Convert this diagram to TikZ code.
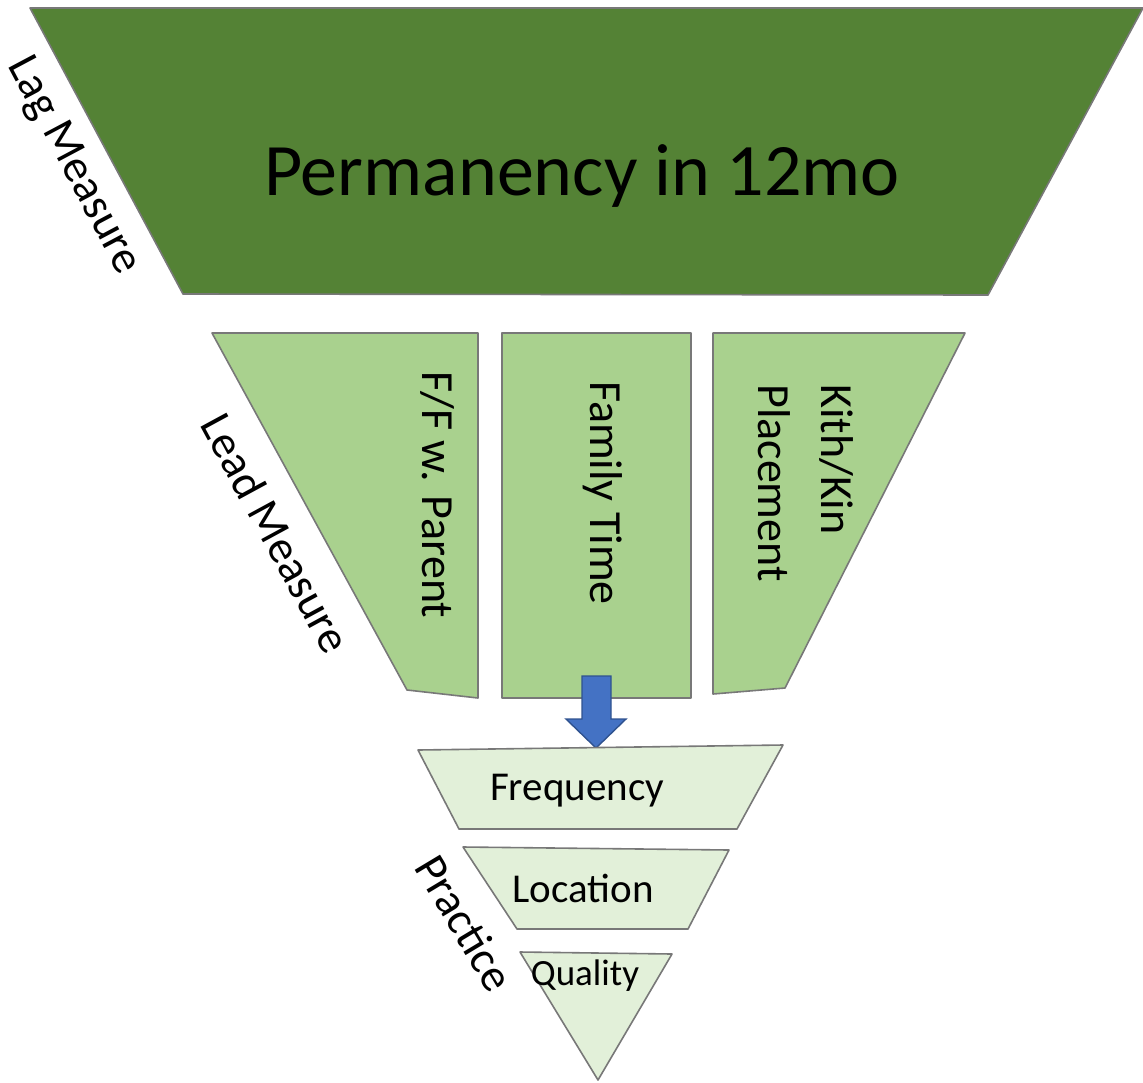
\documentclass[tikz,border=0pt]{standalone}
\usepackage{fontspec}
\setmainfont{Carlito}
\usepackage{tikz}
\usetikzlibrary{positioning}
\definecolor{lagGreen}{RGB}{84,130,53}
\definecolor{leadGreen}{RGB}{169,209,142}
\definecolor{practiceGreen}{RGB}{226,240,217}
\definecolor{edgeGray}{RGB}{120,120,120}
\definecolor{arrowBlue}{RGB}{68,114,196}
\definecolor{arrowEdge}{RGB}{47,82,143}
\newcommand{\funnelpiece}[2]{%
  \filldraw[fill=#1,draw=edgeGray,line width=1.6pt,line join=round] #2 -- cycle;
}
\tikzset{
  sidelabel/.style={font=\fontsize{46}{55}\selectfont,inner sep=0pt},
  steplabel/.style={font=\fontsize{41}{49}\selectfont,anchor=base,inner sep=0pt}
}

\begin{document}
\begin{tikzpicture}[x=1pt,y=-1pt]
    \useasboundingbox (0,0) rectangle (1143,1082);
    % lag measure
    \funnelpiece{lagGreen}{(30,8) -- (1143,8) -- (988,295) -- (183,294)}
    \node[font=\fontsize{74}{88}\selectfont,anchor=base,inner sep=0pt] (perm) at (582,195) {Permanency in 12mo};
    \node[sidelabel,rotate=-62] (lag) at (73,166) {Lag Measure};
    % lead measures
    \funnelpiece{leadGreen}{(212,333) -- (478,333) -- (478,698) -- (407,690)}
    \funnelpiece{leadGreen}{(502,333) -- (691,333) -- (691,698) -- (502,698)}
    \funnelpiece{leadGreen}{(713,333) -- (965,333) -- (785,688) -- (713,694)}
    \node[sidelabel,rotate=-90] (ffparent) at (437,495) {F/F w. Parent};
    \node[sidelabel,rotate=-90] (famtime) at (603,493) {Family Time};
    \node[sidelabel,rotate=-90,align=left,font=\fontsize{46}{63}\selectfont] (kithkin) at (806,483) {Kith/Kin\\Placement};
    \node[sidelabel,rotate=-61.5] (lead) at (276,533) {Lead Measure};
    % arrow into practice
    \filldraw[fill=arrowBlue,draw=arrowEdge,line width=1.4pt,line join=miter]
      (582,676) -- (611,676) -- (611,719) -- (626,719) -- (596,748)
      -- (566,719) -- (582,719) -- cycle;
    % practice
    \funnelpiece{practiceGreen}{(418,750) -- (783,745) -- (737,829) -- (459,829)}
    \funnelpiece{practiceGreen}{(463,847) -- (729,850) -- (688,929) -- (517,929)}
    \funnelpiece{practiceGreen}{(520,952) -- (672,954) -- (598,1080)}
    \node[steplabel] (freq) at (577,800) {Frequency};
    \node[steplabel] (loc) at (583,902) {Location};
    \node[steplabel,font=\fontsize{37}{44}\selectfont] (qual) at (585,985) {Quality};
    \node[sidelabel,rotate=-59] (practice) at (465,923) {Practice};
  \end{tikzpicture}
\end{document}
